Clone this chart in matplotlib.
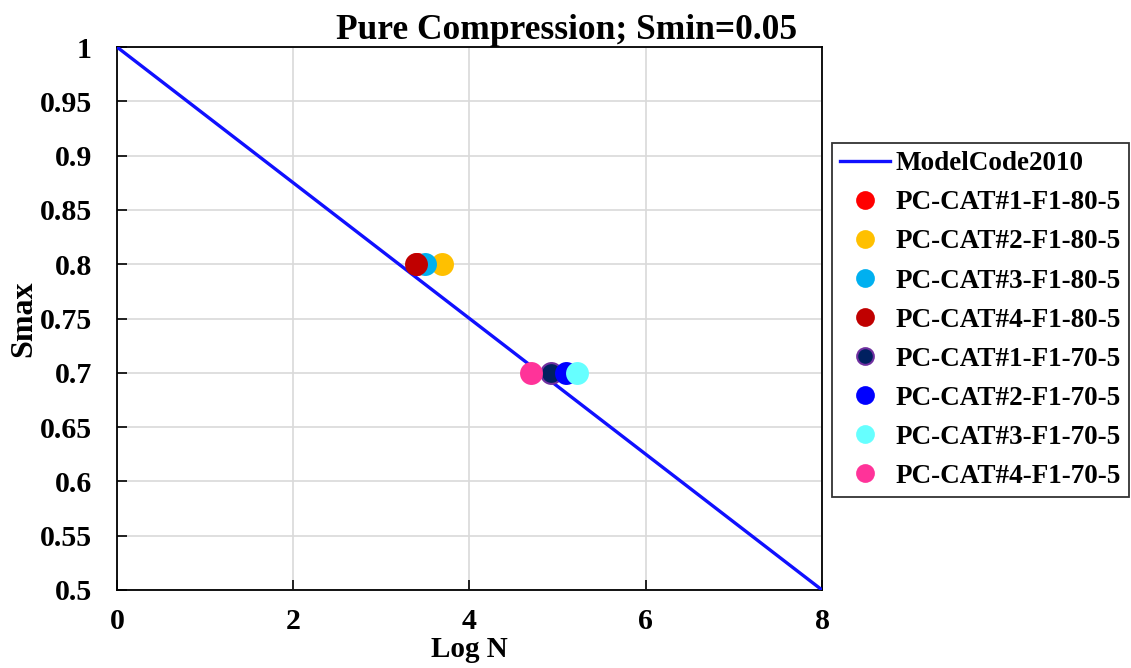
import matplotlib
matplotlib.use("Agg")
import matplotlib.pyplot as plt

# Model Code 2010 curve (Log N vs Smax)
mc_logn = [0.0, 2.0, 4.0, 6.0, 8.0]
mc_smax = [1.0, 0.875, 0.75, 0.625, 0.5]

# test results
names = ["PC-CAT#1-F1-80-5", "PC-CAT#2-F1-80-5", "PC-CAT#3-F1-80-5",
         "PC-CAT#4-F1-80-5", "PC-CAT#1-F1-70-5", "PC-CAT#2-F1-70-5",
         "PC-CAT#3-F1-70-5", "PC-CAT#4-F1-70-5"]
logn = [3.40, 3.69, 3.50, 3.39, 4.93, 5.10, 5.22, 4.70]
smax = [0.8, 0.8, 0.8, 0.8, 0.7, 0.7, 0.7, 0.7]
colors = ["#ff0000", "#ffc000", "#00b0f0", "#c00000",
          "#002060", "#0000ff", "#66ffff", "#ff3399"]
edges = ["#ff0000", "#ffc000", "#00b0f0", "#c00000",
         "#7030a0", "#0000ff", "#66ffff", "#ff3399"]

xticks = [0, 2, 4, 6, 8]
yticks = [0.5, 0.55, 0.6, 0.65, 0.7, 0.75, 0.8, 0.85, 0.9, 0.95, 1.0]
ylabels = ["0.5", "0.55", "0.6", "0.65", "0.7", "0.75", "0.8", "0.85",
           "0.9", "0.95", "1"]

plt.rcParams['font.family'] = ['Liberation Serif', 'DejaVu Serif']
plt.rcParams['font.weight'] = 'bold'

fig = plt.figure(figsize=(11.31, 6.68), dpi=100)
ax = fig.add_axes([0.1034, 0.1168, 0.6234, 0.8128])

ax.plot(mc_logn, mc_smax, color="#1010ff", lw=2.4, label="ModelCode2010",
        zorder=3)
for x, y, c, e, n in zip(logn, smax, colors, edges, names):
    ax.plot([x], [y], 'o', ms=15, mfc=c, mec=e, mew=1.5, label=n,
            zorder=4)

ax.set_xlim(0, 8)
ax.set_ylim(0.5, 1.0)
ax.set_xticks(xticks)
ax.set_xticklabels([str(t) for t in xticks])
ax.set_yticks(yticks)
ax.set_yticklabels(ylabels)
ax.grid(True, color="#d9d9d9", lw=1.2, zorder=0)
ax.set_axisbelow(True)
ax.tick_params(direction='in', length=7, width=1.2, labelsize=21.5)
ax.tick_params(axis='x', pad=13)
ax.tick_params(axis='y', pad=18)
for lab in ax.get_xticklabels() + ax.get_yticklabels():
    lab.set_fontweight('bold')
for sp in ax.spines.values():
    sp.set_linewidth(1.3)
    sp.set_color('black')

ax.set_xlabel("Log N", fontsize=21, fontweight='bold', labelpad=1)
ax.set_ylabel("Smax", fontsize=23, fontweight='bold', labelpad=1)
ax.set_title("Pure Compression; Smin=0.05", fontsize=25.5, fontweight='bold',
             pad=5, x=0.638)

leg = ax.legend(loc='upper left', bbox_to_anchor=(1.014, 0.823),
                fontsize=19.5, markerscale=0.8, frameon=True, fancybox=False,
                edgecolor='black', borderpad=0.3, labelspacing=0.52,
                handlelength=1.85, handletextpad=0.2, borderaxespad=0)
leg.get_frame().set_linewidth(1.3)
for t in leg.get_texts():
    t.set_fontweight('bold')

fig.savefig("out.png", dpi=100)
